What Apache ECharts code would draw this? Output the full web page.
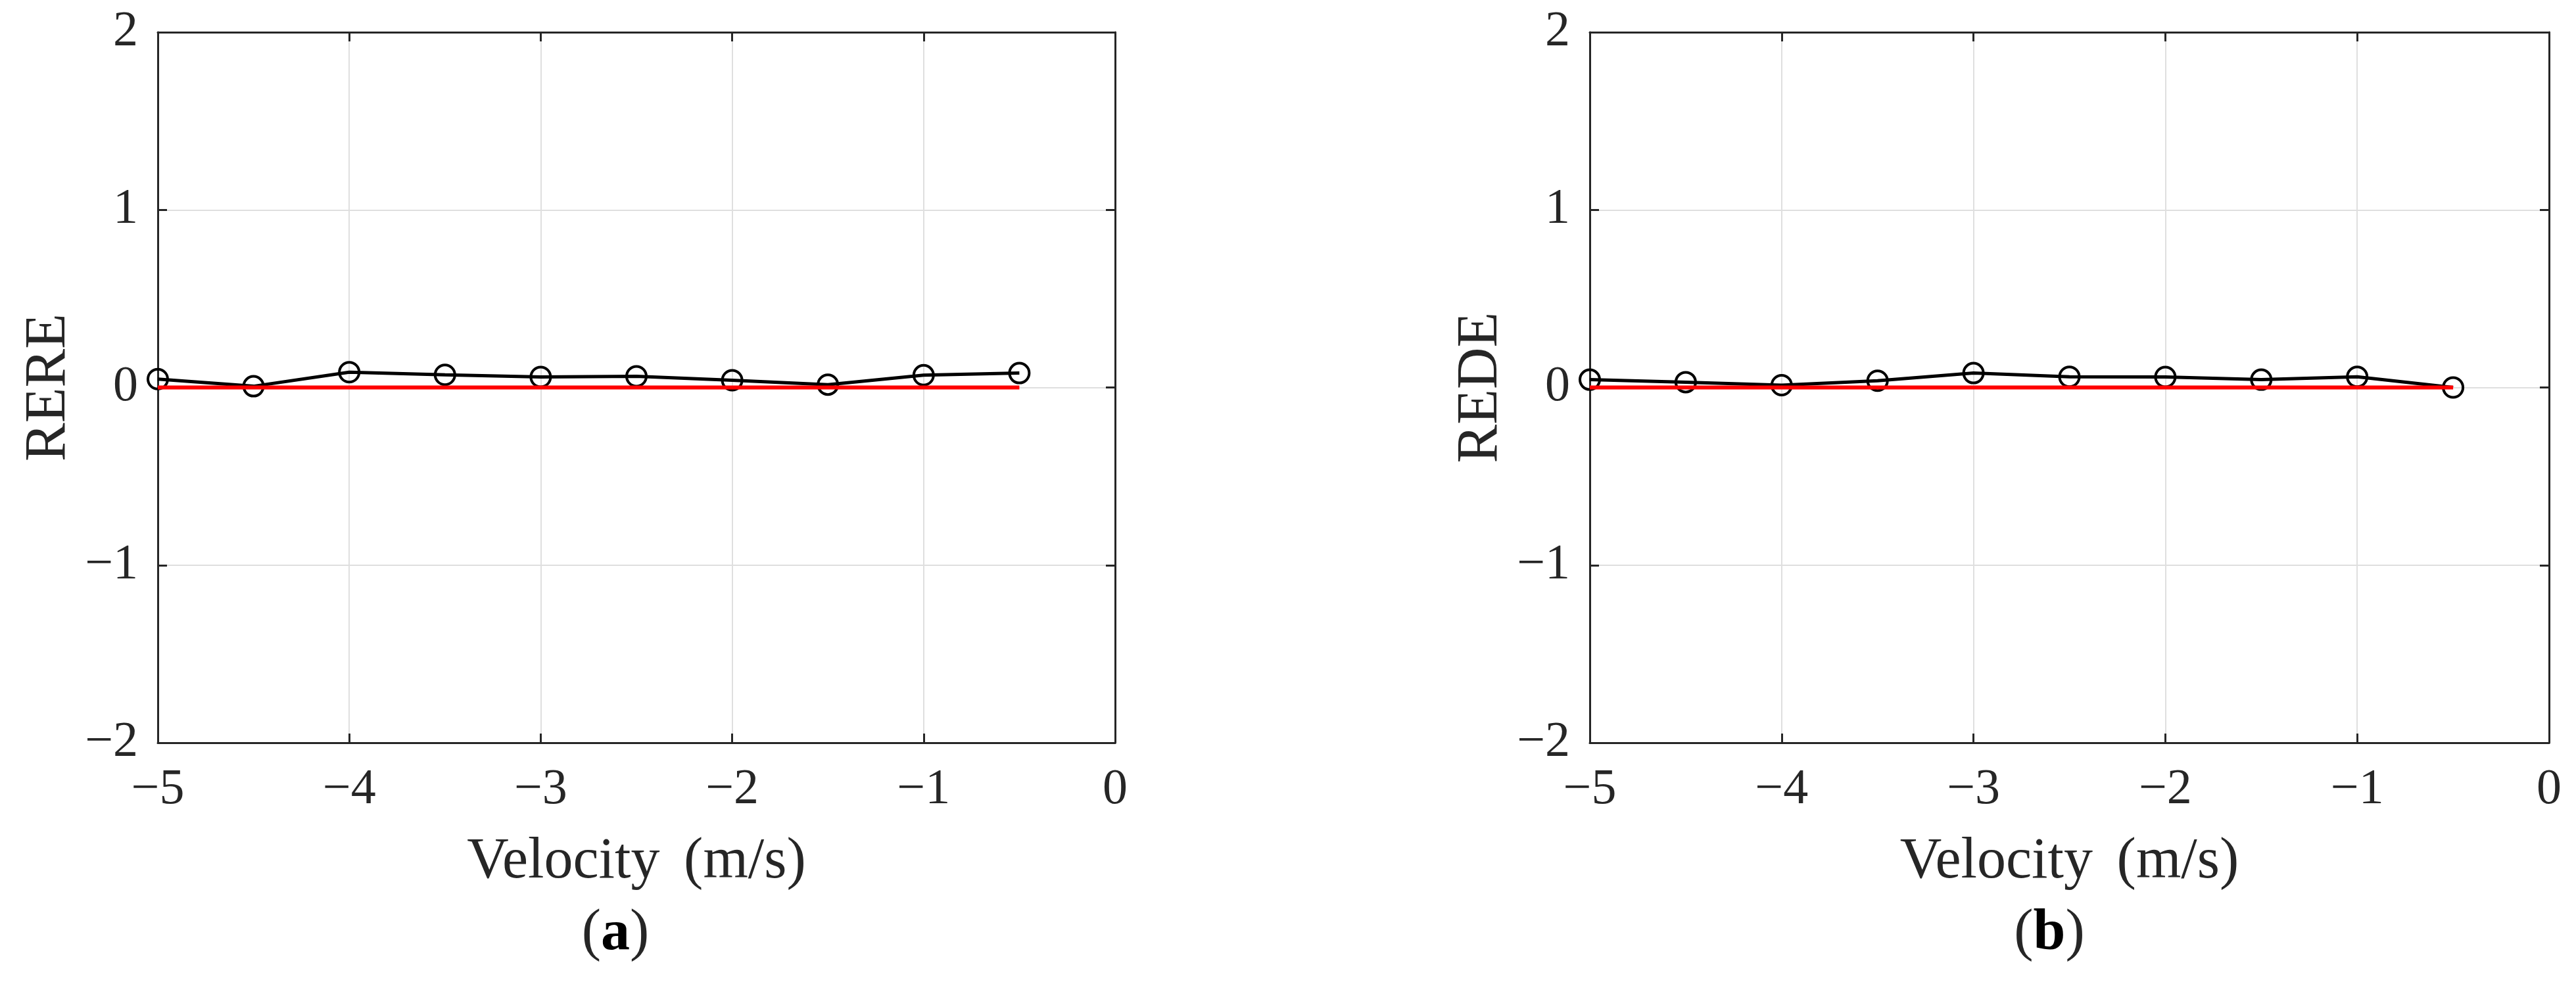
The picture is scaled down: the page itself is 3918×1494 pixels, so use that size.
<!DOCTYPE html>
<html>
<head>
<meta charset="utf-8">
<script src="https://cdn.jsdelivr.net/npm/echarts@6/dist/echarts.min.js"></script>
<style>
html,body{margin:0;padding:0;background:#fff;}
#chart{width:3918px;height:1494px;}
</style>
</head>
<body>
<div id="chart"></div>
<script>
// ---- data ----
var velocity = [-5, -4.5, -4, -3.5, -3, -2.5, -2, -1.5, -1, -0.5];
var rere = [0.047, 0.007, 0.086, 0.071, 0.059, 0.063, 0.041, 0.016, 0.069, 0.081];
var rede = [0.044, 0.030, 0.013, 0.038, 0.081, 0.060, 0.059, 0.044, 0.060, 0.000];
var referenceLine = [[-5, 0], [-0.5, 0]];
var xTicks = [-5, -4, -3, -2, -1, 0];
var yTicks = [-2, -1, 0, 1, 2];
var xTitle = 'Velocity \u2006(m/s)';
var yTitles = ['RERE', 'REDE'];
var panelTags = ['a', 'b'];

// ---- styling ----
var FONT = 'Liberation Serif';
var TXT = '#262626';
function fmt(v) { return v < 0 ? '\u2212' + Math.abs(v) : String(v); }

var grids = [
  {left: 240, top: 49, width: 1456, height: 1081},
  {left: 2418, top: 49, width: 1459, height: 1081}
];

var xAxes = [], yAxes = [], series = [], graphics = [];
grids.forEach(function (g, i) {
  var axisLine = {show: true, onZero: false, lineStyle: {color: TXT, width: 3}};
  var tick = {show: true, inside: true, length: 14, lineStyle: {color: TXT, width: 3}};
  xAxes.push({
    type: 'value', gridIndex: i, position: 'bottom',
    min: xTicks[0], max: xTicks[xTicks.length - 1], interval: 1,
    axisLine: axisLine, axisTick: tick,
    axisLabel: {show: true, margin: 34, fontFamily: FONT, fontSize: 76, color: TXT, formatter: fmt},
    splitLine: {show: true, lineStyle: {color: '#dfdfdf', width: 2}},
    name: xTitle, nameLocation: 'middle', nameGap: 138,
    nameTextStyle: {fontFamily: FONT, fontSize: 88, color: TXT}
  });
  xAxes.push({
    type: 'value', gridIndex: i, position: 'top',
    min: xTicks[0], max: xTicks[xTicks.length - 1], interval: 1,
    axisLine: axisLine, axisTick: tick, axisLabel: {show: false}, splitLine: {show: false}
  });
  yAxes.push({
    type: 'value', gridIndex: i, position: 'left',
    min: yTicks[0], max: yTicks[yTicks.length - 1], interval: 1,
    axisLine: axisLine, axisTick: tick,
    axisLabel: {show: true, margin: 30, fontFamily: FONT, fontSize: 76, color: TXT, formatter: fmt},
    splitLine: {show: true, lineStyle: {color: '#dfdfdf', width: 2}},
    name: yTitles[i], nameLocation: 'middle', nameGap: 121,
    nameTextStyle: {fontFamily: FONT, fontSize: 88, color: TXT}
  });
  yAxes.push({
    type: 'value', gridIndex: i, position: 'right',
    min: yTicks[0], max: yTicks[yTicks.length - 1], interval: 1,
    axisLine: axisLine, axisTick: tick, axisLabel: {show: false}, splitLine: {show: false}
  });

  var vals = i === 0 ? rere : rede;
  series.push({
    type: 'line', xAxisIndex: i * 2, yAxisIndex: i * 2,
    data: velocity.map(function (v, k) { return [v, vals[k]]; }),
    symbol: 'circle', symbolSize: 30, showAllSymbol: true,
    lineStyle: {color: '#000', width: 5},
    itemStyle: {color: 'rgba(0,0,0,0)', borderColor: '#000', borderWidth: 4},
    animation: false, z: 3
  });
  series.push({
    type: 'line', xAxisIndex: i * 2, yAxisIndex: i * 2,
    data: referenceLine, symbol: 'none',
    lineStyle: {color: '#ff0000', width: 6},
    animation: false, z: 4
  });

  graphics.push({
    type: 'text',
    x: i === 0 ? 936 : 3117, y: 1421,
    style: {
      text: '{n|(}{b|' + panelTags[i] + '}{n|)}',
      align: 'center', verticalAlign: 'middle',
      rich: {
        n: {fontFamily: FONT, fontSize: 88, fill: TXT, color: TXT},
        b: {fontFamily: FONT, fontSize: 88, fontWeight: 'bold', fill: '#000', color: '#000'}
      }
    }
  });
});

var chart = echarts.init(document.getElementById('chart'));
chart.setOption({
  animation: false,
  backgroundColor: '#fff',
  grid: grids,
  xAxis: xAxes,
  yAxis: yAxes,
  series: series,
  graphic: graphics
});
</script>
</body>
</html>
